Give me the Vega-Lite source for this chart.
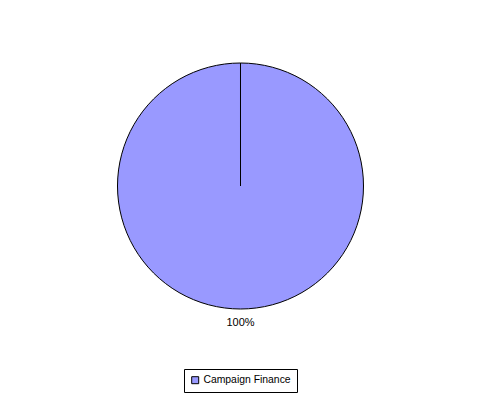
{
  "$schema": "https://vega.github.io/schema/vega-lite/v6.json",
  "autosize": "none",
  "width": 481,
  "height": 372,
  "padding": {"top": 0, "left": 0, "right": 0, "bottom": 28},
  "background": "white",
  "data": {"values": [{"category": "Campaign Finance", "value": 100, "label": "100%"}]},
  "encoding": {
    "theta": {"field": "value", "type": "quantitative", "stack": true, "scale": {"range": [0, 6.28315]}}
  },
  "layer": [
    {
      "mark": {"type": "arc", "radius": 123, "stroke": "black", "strokeWidth": 1},
      "encoding": {
        "color": {
          "field": "category",
          "type": "nominal",
          "scale": {"range": ["#9999ff"]},
          "legend": {
            "title": null,
            "orient": "none",
            "legendX": 184,
            "legendY": 369,
            "direction": "vertical",
            "symbolType": "square",
            "symbolSize": 49,
            "symbolStrokeColor": "black",
            "symbolStrokeWidth": 1,
            "symbolOpacity": 1,
            "labelFont": "Liberation Sans",
            "labelFontSize": 10.4,
            "labelColor": "black",
            "labelOffset": 3,
            "strokeColor": "black",
            "fillColor": "white",
            "padding": 6
          }
        }
      }
    },
    {
      "mark": {"type": "text", "radius": 137, "font": "Liberation Sans", "fontSize": 11, "color": "black", "baseline": "middle", "align": "center"},
      "encoding": {"text": {"field": "label"}}
    }
  ]
}
